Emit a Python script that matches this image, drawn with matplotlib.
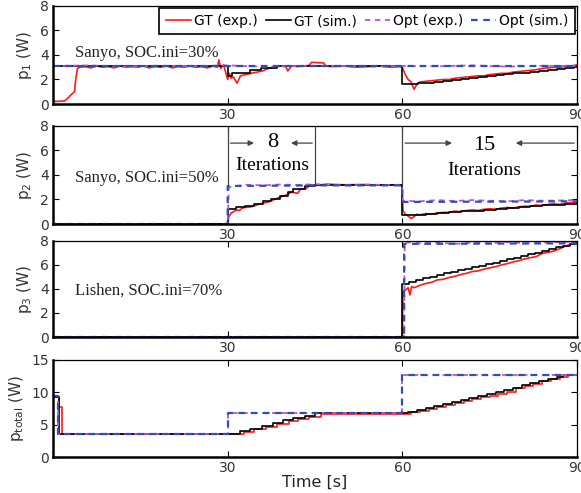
import matplotlib
matplotlib.use("Agg")
import matplotlib.pyplot as plt

# ---- p1 : Sanyo, SOC.ini=30% ----
t1_gt_exp = [0, 2, 2.6, 3.2, 3.7, 3.9, 4.2, 4.6, 5.5, 6.5, 7.5, 8.5, 9.5, 10.5, 11.5, 12.5, 13.5, 14.5,
             15.5, 16.5, 17.5, 18.5, 19.5, 20.5, 21.5, 22.5, 23.5, 24.5, 25.5, 26.5, 27.5, 28.2, 28.5,
             28.8, 29.3, 30.0, 30.3, 30.6, 31.0, 31.6, 32.2, 33.0, 34.0, 35.0, 36.0, 37.0, 38.0, 39.0,
             40.0, 40.3, 41.0, 42, 43, 44, 44.4, 46.5, 46.8, 48, 50, 52, 54, 56, 58, 59.5, 60, 60.5, 61,
             61.5, 62, 62.5, 63, 64, 65, 66, 67, 68, 69, 70, 71, 72, 73, 74, 75, 76, 77, 78, 79, 80, 81,
             82, 83, 84, 85, 86, 87, 88, 89, 90]
p1_gt_exp = [0.2, 0.25, 0.5, 0.8, 1.0, 2.0, 2.9, 3.0, 3.05, 2.95, 3.1, 3.0, 3.05, 2.95, 3.1, 3.0, 3.05,
             3.0, 3.1, 2.95, 3.05, 3.0, 3.1, 2.95, 3.05, 3.0, 3.1, 3.0, 3.05, 2.95, 3.1, 3.0, 3.6, 2.9,
             3.2, 2.0, 2.5, 2.1, 2.2, 1.7, 2.3, 2.4, 2.5, 2.6, 2.7, 2.9, 3.0, 3.1, 3.05, 2.7, 3.1, 3.05,
             3.1, 3.15, 3.4, 3.35, 3.1, 3.05, 3.1, 3.0, 3.05, 3.1, 3.0, 3.05, 3.0, 2.4, 2.0, 1.8, 1.2,
             1.6, 1.8, 1.85, 1.9, 1.95, 2.0, 2.0, 2.1, 2.15, 2.2, 2.25, 2.3, 2.3, 2.4, 2.45, 2.5, 2.5,
             2.6, 2.65, 2.7, 2.75, 2.8, 2.9, 2.95, 3.0, 2.95, 3.1, 3.1, 3.2]
t1_gt_sim = [0, 30, 30.7, 33.8, 35.8, 38.5, 60, 62.7, 64, 65.5, 67, 68.5, 70, 71.5, 73, 74.5, 76, 77.5,
             79, 80.5, 82, 83.5, 85, 86.5, 88, 89.5, 90]
p1_gt_sim = [3.1, 2.25, 2.55, 2.75, 2.9, 3.1, 1.6, 1.7, 1.75, 1.82, 1.9, 1.97, 2.05, 2.12, 2.2, 2.27,
             2.35, 2.42, 2.5, 2.57, 2.65, 2.72, 2.8, 2.87, 2.95, 3.02, 3.1]
t1_opt_exp = [0, 6, 12, 18, 24, 30, 36, 42, 48, 54, 60, 66, 72, 78, 84, 90]
p1_opt_exp = [3.1, 3.15, 3.05, 3.12, 3.08, 3.15, 3.05, 3.1, 3.12, 3.05, 3.1, 3.08, 3.15, 3.05, 3.12, 3.1]
t1_opt_sim = [0, 90]
p1_opt_sim = [3.12, 3.12]

# ---- p2 : Sanyo, SOC.ini=50% ----
t2_gt_exp = [0, 30, 30.2, 30.6, 31, 31.5, 32, 32.5, 33, 34, 35, 36, 37, 38, 39, 40, 41, 42, 42.5, 43.5,
             44.2, 45, 47, 50, 53, 56, 59.9, 60.1, 60.5, 61, 61.5, 62, 62.5, 63, 64, 65, 66, 67, 68, 69,
             70, 71, 72, 73, 74, 75, 76, 77, 78, 79, 80, 81, 82, 83, 84, 85, 86, 87, 88, 89, 90]
p2_gt_exp = [0, 0, 0.6, 0.9, 1.0, 1.15, 1.1, 1.3, 1.35, 1.4, 1.55, 1.7, 1.8, 2.0, 2.2, 2.35, 2.6, 2.5,
             2.85, 2.9, 3.2, 3.15, 3.25, 3.2, 3.22, 3.18, 3.2, 1.1, 0.8, 0.65, 0.45, 0.6, 0.8, 0.75,
             0.85, 0.8, 0.9, 0.95, 0.95, 1.05, 1.0, 1.1, 1.15, 1.1, 1.2, 1.25, 1.2, 1.3, 1.35, 1.3, 1.4,
             1.45, 1.45, 1.55, 1.5, 1.6, 1.65, 1.6, 1.7, 1.75, 1.8]
t2_gt_sim = [0, 30, 31.5, 33, 34.5, 36, 37.5, 39, 40.3, 41.3, 43.3, 45, 60, 62, 64, 66, 68, 70, 72, 74,
             76, 78, 80, 82, 84, 86, 88, 90]
p2_gt_sim = [0, 1.2, 1.35, 1.5, 1.65, 1.85, 2.05, 2.3, 2.6, 2.85, 3.1, 3.2, 0.7, 0.75, 0.82, 0.89,
             0.96, 1.03, 1.1, 1.17, 1.24, 1.31, 1.38, 1.45, 1.52, 1.59, 1.66, 1.73]
t2_opt_exp = [0, 30, 30.2, 33, 36, 39, 42, 45, 48, 51, 54, 57, 59.9, 60.1, 63, 66, 69, 72, 75, 78, 81,
              84, 87, 90]
p2_opt_exp = [0, 0, 3.0, 3.2, 3.15, 3.22, 3.18, 3.25, 3.2, 3.15, 3.22, 3.18, 3.2, 1.9, 1.85, 1.95,
              1.88, 1.95, 1.9, 1.85, 1.95, 1.9, 1.92, 1.95]
t2_opt_sim = [0, 30, 30, 45, 60, 60, 90]
p2_opt_sim = [0, 0, 3.1, 3.15, 3.15, 1.8, 1.85]

# ---- p3 : Lishen, SOC.ini=70% ----
t3_gt_exp = [0, 60, 60.1, 60.5, 61, 61.3, 61.6, 62, 63, 64, 65, 66, 67, 68, 69, 70, 71, 72, 73, 74, 75,
             76, 77, 78, 79, 80, 81, 82, 83, 84, 85, 86, 87, 88, 89, 90]
p3_gt_exp = [0, 0, 3.8, 3.9, 4.1, 3.5, 4.2, 4.1, 4.3, 4.45, 4.55, 4.75, 4.8, 4.95, 5.05, 5.2, 5.3, 5.45,
             5.5, 5.65, 5.75, 5.85, 6.0, 6.1, 6.25, 6.35, 6.5, 6.6, 6.7, 6.95, 7.05, 7.15, 7.35, 7.55, 7.75, 7.95]
t3_gt_sim = [0, 60, 61.2, 62.4, 63.6, 64.8, 66.0, 67.2, 68.4, 69.6, 70.8, 72.0, 73.2, 74.4, 75.6, 76.8,
             78.0, 79.2, 80.4, 81.6, 82.8, 84.0, 85.2, 86.4, 87.6, 88.8, 90]
p3_gt_sim = [0, 4.45, 4.6, 4.75, 4.9, 5.0, 5.15, 5.3, 5.4, 5.55, 5.7, 5.8, 5.95, 6.1, 6.2, 6.35, 6.5,
             6.6, 6.75, 6.9, 7.0, 7.15, 7.3, 7.45, 7.6, 7.75, 7.9]
t3_opt_exp = [0, 60.3, 60.4, 63, 66, 69, 72, 75, 78, 81, 84, 87, 90]
p3_opt_exp = [0, 0, 7.9, 7.8, 7.85, 7.75, 7.85, 7.8, 7.9, 7.8, 7.85, 7.9, 7.95]
t3_opt_sim = [0, 60.3, 60.3, 90]
p3_opt_sim = [0, 0, 7.75, 7.8]

# ---- p_total ----
t4_gt_exp = [0, 1.1, 1.5, 32.8, 34.5, 36.5, 38.5, 40.5, 42, 44, 46, 61.5, 63, 64.5, 66, 67.5, 69, 70.5,
             72, 73.5, 75, 76.5, 78, 79.5, 81, 82.5, 84, 85.5, 87, 88.5, 90]
p4_gt_exp = [9.3, 7.8, 3.55, 3.9, 4.3, 4.7, 5.1, 5.5, 5.9, 6.2, 6.7, 6.9, 7.1, 7.4, 7.7, 8.0, 8.3, 8.6,
             8.9, 9.2, 9.5, 9.8, 10.1, 10.6, 11.0, 11.3, 11.7, 12.0, 12.4, 12.7, 12.7]
t4_gt_sim = [0, 1.0, 32.1, 33.8, 35.9, 37.8, 39.5, 41.2, 43.3, 45, 61, 62.5, 64, 65.5, 67, 68.5, 70,
             71.5, 73, 74.5, 76, 77.5, 79, 80.5, 82, 83.5, 85, 86.5, 87.6, 90]
p4_gt_sim = [9.3, 3.6, 4.0, 4.4, 4.8, 5.2, 5.7, 6.0, 6.3, 6.8, 7.0, 7.3, 7.6, 7.9, 8.2, 8.5, 8.8, 9.1,
             9.4, 9.7, 10.0, 10.3, 10.7, 11.1, 11.4, 11.7, 12.0, 12.3, 12.7, 12.7]
t4_opt = [0, 0.9, 0.9, 30, 30, 60, 60, 90]
p4_opt = [9.4, 9.4, 3.6, 3.6, 6.8, 6.8, 12.7, 12.7]

labels = ["GT (exp.)", "GT (sim.)", "Opt (exp.)", "Opt (sim.)"]
notes = ["Sanyo, SOC.ini=30%", "Sanyo, SOC.ini=50%", "Lishen, SOC.ini=70%", None]
ylabels = ["p$_1$ (W)", "p$_2$ (W)", "p$_3$ (W)", "p$_{\\rm total}$ (W)"]

RED = "#ff1a1a"
MAG = "#c055c8"
BLUE = "#2e4fb5"
GREY = "#444444"

plt.rcParams["font.family"] = "DejaVu Sans"
fig = plt.figure(figsize=(5.81, 4.93), dpi=100)

boxes = [(0.789, 0.199), (0.5456, 0.199), (0.3164, 0.195), (0.073, 0.197)]
data = [
    (t1_gt_exp, p1_gt_exp, t1_gt_sim, p1_gt_sim, t1_opt_exp, p1_opt_exp, t1_opt_sim, p1_opt_sim),
    (t2_gt_exp, p2_gt_exp, t2_gt_sim, p2_gt_sim, t2_opt_exp, p2_opt_exp, t2_opt_sim, p2_opt_sim),
    (t3_gt_exp, p3_gt_exp, t3_gt_sim, p3_gt_sim, t3_opt_exp, p3_opt_exp, t3_opt_sim, p3_opt_sim),
    (t4_gt_exp, p4_gt_exp, t4_gt_sim, p4_gt_sim, t4_opt, p4_opt, t4_opt, p4_opt),
]

axes = []
for i, (b, h) in enumerate(boxes):
    ax = fig.add_axes([0.0912, b, 0.902, h])
    te, pe, ts, ps, toe, poe, tos, pos = data[i]
    step = "steps-post" if i == 3 else "default"
    ax.plot(te, pe, color=RED, lw=1.2, label=labels[0], drawstyle=step)
    ax.plot(ts, ps, color="black", lw=1.2, label=labels[1], drawstyle="steps-post")
    ax.plot(toe, poe, color=MAG, lw=1.3, ls=(0, (3, 2.5)), label=labels[2])
    ax.plot(tos, pos, color=BLUE, lw=1.6, ls=(0, (3, 2.5)), label=labels[3])
    ax.set_xlim(0, 90)
    ax.set_xticks([30, 60, 90])
    if i < 3:
        ax.set_ylim(0, 8)
        ax.set_yticks([0, 2, 4, 6, 8])
    else:
        ax.set_ylim(0, 15)
        ax.set_yticks([0, 5, 10, 15])
    ax.tick_params(direction="in", top=True, right=True, labelsize=10,
                   labelcolor="#333333", length=4, pad=3)
    ax.spines["left"].set_linewidth(1.8)
    ax.spines["bottom"].set_linewidth(1.8)
    ax.spines["top"].set_linewidth(0.9)
    ax.spines["right"].set_linewidth(0.9)
    ax.set_ylabel(ylabels[i], fontsize=11, color="#333333", labelpad=4)
    if notes[i]:
        ax.text(3.8, [4.2, 3.75, 3.9][i], notes[i], family="Liberation Serif",
                fontsize=12, va="center", ha="left", color="#222222")
    axes.append(ax)

axes[0].legend(loc="upper right", ncol=4, fontsize=10, frameon=True, fancybox=False,
               edgecolor="black", framealpha=1, handlelength=1.8, handletextpad=0.25,
               columnspacing=0.55, borderpad=0.45, borderaxespad=0.15)
axes[0].get_legend().get_frame().set_linewidth(1.2)

# iteration annotations on p2
ax2 = axes[1]
for x0, y0 in [(30, 3.2), (45, 3.25), (60, 3.2), (90, 8)]:
    ax2.plot([x0, x0], [y0, 8], color=GREY, lw=0.9)
arrow = dict(arrowstyle="-|>", color=GREY, lw=0.9, mutation_scale=8)
ax2.annotate("", xy=(35.0, 6.6), xytext=(30, 6.6), arrowprops=arrow)
ax2.annotate("", xy=(40.4, 6.6), xytext=(45, 6.6), arrowprops=arrow)
ax2.annotate("", xy=(69.0, 6.6), xytext=(60, 6.6), arrowprops=arrow)
ax2.annotate("", xy=(79.0, 6.6), xytext=(90, 6.6), arrowprops=arrow)
ax2.text(37.7, 6.65, "8", family="Liberation Serif", fontsize=16, ha="center", va="center")
ax2.text(37.7, 4.8, "Iterations", family="Liberation Serif", fontsize=14, ha="center", va="center")
ax2.text(74.0, 6.4, "15", family="Liberation Serif", fontsize=16, ha="center", va="center")
ax2.text(74.0, 4.4, "Iterations", family="Liberation Serif", fontsize=14, ha="center", va="center")

axes[3].set_xlabel("Time [s]", fontsize=11.5, color="#222222", labelpad=0)

fig.savefig("out.png", dpi=100)
